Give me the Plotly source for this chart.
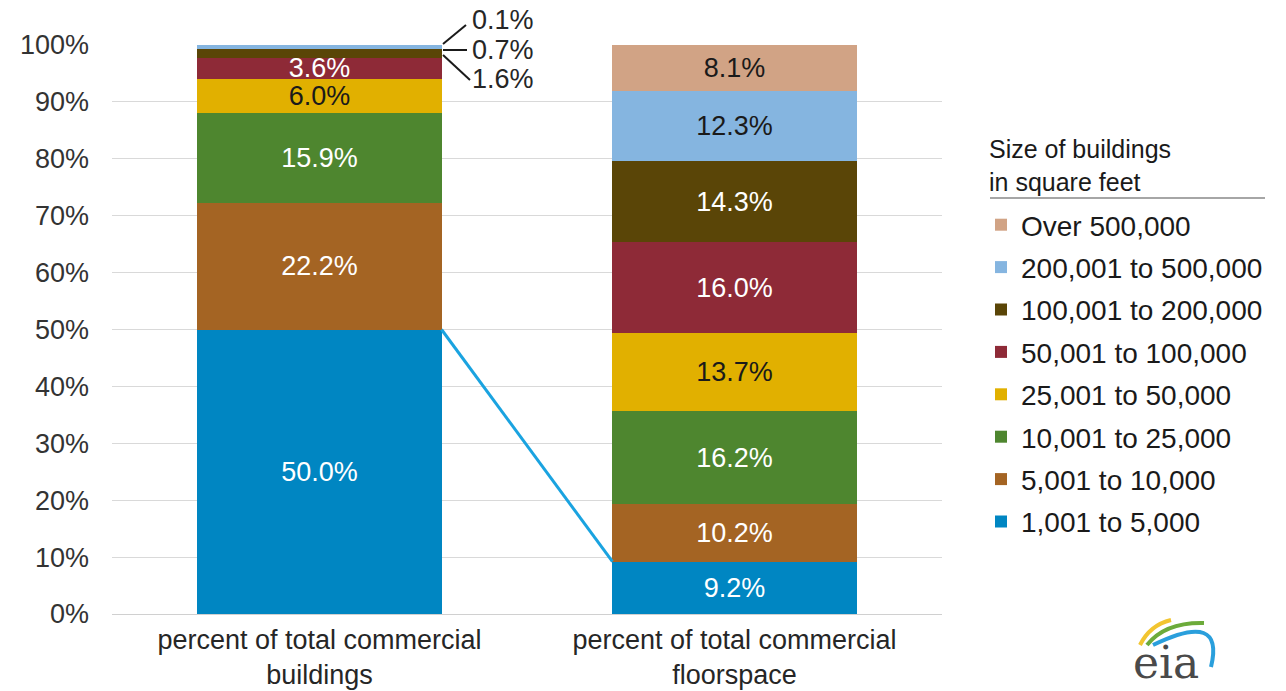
import plotly.graph_objects as go

# ---------------- data ----------------
categories = ["percent of total commercial<br>buildings",
              "percent of total commercial<br>floorspace"]
size_classes = ["1,001 to 5,000", "5,001 to 10,000", "10,001 to 25,000",
                "25,001 to 50,000", "50,001 to 100,000", "100,001 to 200,000",
                "200,001 to 500,000", "Over 500,000"]
pct_buildings = [50.0, 22.2, 15.9, 6.0, 3.6, 1.6, 0.7, 0.1]
pct_floorspace = [9.2, 10.2, 16.2, 13.7, 16.0, 14.3, 12.3, 8.1]
y_tick_vals = [0, 10, 20, 30, 40, 50, 60, 70, 80, 90, 100]
y_tick_text = ["0%", "10%", "20%", "30%", "40%", "50%", "60%", "70%", "80%", "90%", "100%"]
legend_title = "Size of buildings<br>in square feet"

# ---------------- style ----------------
colors = ["#0086c2", "#a46423", "#4e862f", "#e1b000",
          "#8e2a37", "#5a4507", "#85b5e0", "#d1a385"]
label_colors = ["#ffffff", "#ffffff", "#ffffff", "#1a1a1a",
                "#ffffff", "#ffffff", "#1a1a1a", "#1a1a1a"]
FONT = "Liberation Sans, Arial, sans-serif"
BAR_WIDTH = 0.588
SMALL = 2.0  # segments below this get outside callouts

fig = go.Figure()
n = len(size_classes)
for i, name in enumerate(size_classes):
    vals = [pct_buildings[i], pct_floorspace[i]]
    texts = [("" if v < SMALL else f"{v:.1f}%") for v in vals]
    fig.add_trace(go.Bar(
        name=name, x=categories, y=vals, width=BAR_WIDTH,
        legendgroup=f"g{i}", legendrank=n - i,
        marker=dict(color=colors[i], line=dict(width=0)),
        text=texts, texttemplate="%{text}", textposition="inside",
        insidetextanchor="middle", textangle=0,
        textfont=dict(family=FONT, size=27, color=label_colors[i]),
        hoverinfo="skip",
    ))

# Margins / plot area
L, R, T, B = 112, 344, 45, 77
W, H = 1286, 691
PW, PH = W - L - R, H - T - B
x_range = [-0.5, 1.5]
y_range = [0, 100]


def px_x(px):
    return (px - L) / PW


def px_y(py):
    return (H - B - py) / PH


def data_x_to_paper(v):
    return (v - x_range[0]) / (x_range[1] - x_range[0])


shapes = []
# connector between the two blue segments
shapes.append(dict(type="line", xref="x", yref="y",
                   x0=0 + BAR_WIDTH / 2, y0=pct_buildings[0],
                   x1=1 - BAR_WIDTH / 2, y1=pct_floorspace[0],
                   line=dict(color="#1aa3e0", width=3), layer="above"))

# callouts for the small segments of the left bar
bar_right = data_x_to_paper(0 + BAR_WIDTH / 2) + 1.5 / PW
label_left_px = 470
label_y_px = {5: 79, 6: 50, 7: 20}   # label centres (pixels) for small segments
start_y_px = {5: 55, 6: 50, 7: 44}
end_px = {5: (470, 80), 6: (467, 50), 7: (466, 25)}
annotations = []
for idx in (5, 6, 7):
    shapes.append(dict(type="line", xref="paper", yref="paper",
                       x0=bar_right, y0=px_y(start_y_px[idx]),
                       x1=px_x(end_px[idx][0]), y1=px_y(end_px[idx][1]),
                       line=dict(color="#1a1a1a", width=2)))
    annotations.append(dict(xref="paper", yref="paper",
                            x=px_x(label_left_px), y=px_y(label_y_px[idx]),
                            xanchor="left", yanchor="middle",
                            text=f"{pct_buildings[idx]:.1f}%", showarrow=False,
                            font=dict(family=FONT, size=27, color="#262626")))

# legend title (as annotation) and underline
annotations.append(dict(xref="paper", yref="paper", x=px_x(987), y=px_y(165),
                        xanchor="left", yanchor="middle", align="left",
                        text=legend_title, showarrow=False,
                        font=dict(family=FONT, size=25, color="#1a1a1a")))
shapes.append(dict(type="line", xref="paper", yref="paper",
                   x0=px_x(990), x1=px_x(1265), y0=px_y(198), y1=px_y(198),
                   line=dict(color="#a6a6a6", width=2)))

# eia logo
def arc_path(pts):
    p = [(px_x(x), px_y(y)) for x, y in pts]
    return f"M{p[0][0]},{p[0][1]} Q{p[1][0]},{p[1][1]} {p[2][0]},{p[2][1]}"

shapes.append(dict(type="path", xref="paper", yref="paper",
                   path=arc_path([(1140, 645), (1150, 625), (1171, 620)]),
                   line=dict(color="#f2c530", width=4)))
shapes.append(dict(type="path", xref="paper", yref="paper",
                   path=arc_path([(1147, 645), (1165, 622), (1204, 623)]),
                   line=dict(color="#6cab3a", width=4)))
shapes.append(dict(type="path", xref="paper", yref="paper",
                   path=arc_path([(1153, 645), (1225, 610), (1211, 667)]),
                   line=dict(color="#2a9fdc", width=4)))
annotations.append(dict(xref="paper", yref="paper", x=px_x(1166), y=px_y(662),
                        xanchor="center", yanchor="middle", text="eia",
                        showarrow=False,
                        font=dict(family="DejaVu Serif", size=44, color="#4a4a4a")))

fig.update_layout(
    width=W, height=H,
    margin=dict(l=L, r=R, t=T, b=B, pad=0, autoexpand=False),
    paper_bgcolor="white", plot_bgcolor="white",
    barmode="stack",
    bargap=1 - BAR_WIDTH,
    font=dict(family=FONT, color="#262626"),
    uniformtext=dict(minsize=27, mode="show"),
    xaxis=dict(range=x_range, showgrid=False, zeroline=False, showline=False,
               automargin=False,
               ticks="", tickfont=dict(family=FONT, size=27, color="#262626"),
               ticklabelstandoff=7),
    yaxis=dict(range=y_range, tickvals=y_tick_vals, ticktext=y_tick_text,
               automargin=False,
               showgrid=True, gridcolor="#d9d9d9", gridwidth=1,
               zeroline=True, zerolinecolor="#d0d0d0", zerolinewidth=1,
               showline=False, ticks="",
               tickfont=dict(family=FONT, size=27, color="#333333"),
               ticklabelstandoff=22),
    legend=dict(x=px_x(981), y=px_y(200), xanchor="left", yanchor="top",
                traceorder="grouped", tracegroupgap=3,
                font=dict(family=FONT, size=28, color="#1a1a1a"),
                bgcolor="rgba(0,0,0,0)", itemclick=False, itemdoubleclick=False),
    shapes=shapes,
    annotations=annotations,
    showlegend=True,
)

fig.write_html("out.html")
